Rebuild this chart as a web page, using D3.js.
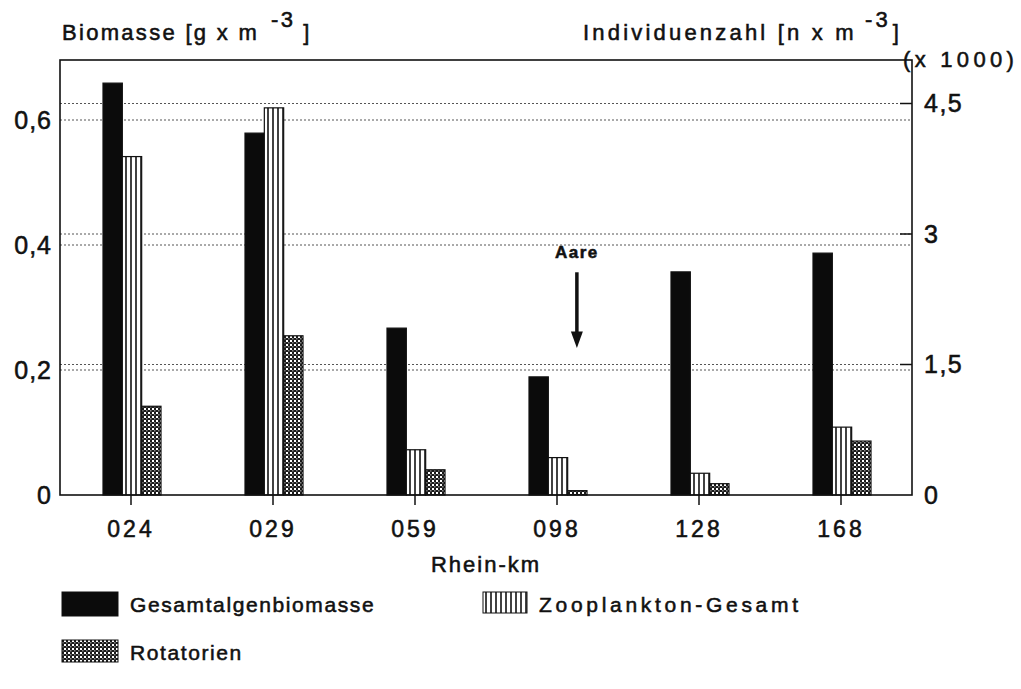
<!DOCTYPE html>
<html>
<head>
<meta charset="utf-8">
<script src="https://cdn.jsdelivr.net/npm/d3@7"></script>
<style>
  body { margin: 0; background: #fff; }
  text { font-family: "Liberation Sans", Arial, sans-serif; fill: #111; stroke: #111; stroke-width: 0.55px; }
</style>
</head>
<body>
<div id="chart"></div>
<script>
// chart values
const stations = ["024", "029", "059", "098", "128", "168"];
const algae = [0.659, 0.579, 0.267, 0.189, 0.357, 0.387];   // left axis, g x m-3
const zooplankton = [3.89, 4.45, 0.52, 0.43, 0.25, 0.78];   // right axis, x1000
const rotatorien = [1.02, 1.83, 0.29, 0.05, 0.13, 0.62];    // right axis, x1000
const leftTicks = [0, 0.2, 0.4, 0.6];
const rightTicks = [0, 1.5, 3, 4.5];
const seriesNames = ["Gesamtalgenbiomasse", "Zooplankton-Gesamt", "Rotatorien"];

const width = 1021, height = 689;
const margin = { top: 60, right: 109, bottom: 194, left: 60 };
const innerwidth = width - margin.left - margin.right;
const innerheight = height - margin.top - margin.bottom;

const svg = d3.select("#chart").append("svg")
    .attr("width", width)
    .attr("height", height);

// patterns for the hatched bars
const defs = svg.append("defs");
const stripe = defs.append("pattern")
    .attr("id", "stripes")
    .attr("patternUnits", "userSpaceOnUse")
    .attr("width", 5).attr("height", 10);
stripe.append("rect").attr("width", 5).attr("height", 10).attr("fill", "#fff");
stripe.append("line").attr("x1", 1).attr("x2", 1).attr("y1", 0).attr("y2", 10)
    .attr("stroke", "#111").attr("stroke-width", 1.6);

const check = defs.append("pattern")
    .attr("id", "checks")
    .attr("patternUnits", "userSpaceOnUse")
    .attr("width", 4).attr("height", 4);
check.append("rect").attr("width", 4).attr("height", 4).attr("fill", "#1a1a1a");
check.append("rect").attr("x", 0).attr("y", 0).attr("width", 2).attr("height", 2).attr("fill", "#fff");
check.append("rect").attr("x", 2).attr("y", 2).attr("width", 1.5).attr("height", 1.5).attr("fill", "#888");

const fills = ["#0b0b0b", "url(#stripes)", "url(#checks)"];

const g = svg.append("g")
    .attr("transform", "translate(" + margin.left + "," + margin.top + ")");

const x0 = d3.scaleBand()
    .domain(stations)
    .range([0, innerwidth]);

const x1 = d3.scaleBand()
    .domain(seriesNames)
    .range([x0.bandwidth() / 2 - 28, x0.bandwidth() / 2 + 30]);

const yL = d3.scaleLinear().domain([0, 0.696]).range([innerheight, 0]);
const yR = d3.scaleLinear().domain([0, 5]).range([innerheight, 0]);

// dotted grid lines, one set per axis
g.selectAll(".gridL")
    .data(leftTicks.slice(1))
    .enter().append("line")
    .attr("x1", 0).attr("x2", innerwidth)
    .attr("y1", d => yL(d)).attr("y2", d => yL(d))
    .attr("stroke", "#555").attr("stroke-width", 1)
    .attr("stroke-dasharray", "2,2");

g.selectAll(".gridR")
    .data(rightTicks.slice(1))
    .enter().append("line")
    .attr("x1", 0).attr("x2", innerwidth)
    .attr("y1", d => yR(d)).attr("y2", d => yR(d))
    .attr("stroke", "#555").attr("stroke-width", 1)
    .attr("stroke-dasharray", "2,2");

// bars
const rows = stations.map((s, i) => ({
    station: s,
    vals: [
        { name: seriesNames[0], y: yL(algae[i]) },
        { name: seriesNames[1], y: yR(zooplankton[i]) },
        { name: seriesNames[2], y: yR(rotatorien[i]) }
    ]
}));

const groups = g.selectAll(".grp")
    .data(rows)
    .enter().append("g")
    .attr("transform", d => "translate(" + x0(d.station) + ",0)");

groups.selectAll("rect")
    .data(d => d.vals)
    .enter().append("rect")
    .attr("x", d => x1(d.name))
    .attr("width", x1.bandwidth())
    .attr("y", d => d.y)
    .attr("height", d => innerheight - d.y)
    .attr("fill", (d, i) => fills[i])
    .attr("stroke", "#111")
    .attr("stroke-width", 1.2);

// axes
const axisB = g.append("g")
    .attr("transform", "translate(0," + innerheight + ")")
    .call(d3.axisBottom(x0).tickSize(10).tickPadding(16));
axisB.select(".domain").remove();
axisB.selectAll("line").attr("stroke", "#111").attr("stroke-width", 1.5);
axisB.selectAll("text")
    .style("font-family", "Liberation Sans, Arial, sans-serif")
    .style("font-size", "23px")
    .style("letter-spacing", "3px")
    .attr("fill", "#111");

const axisL = g.append("g")
    .call(d3.axisLeft(yL).tickValues(leftTicks).tickSize(0).tickPadding(8)
        .tickFormat(d => d === 0 ? "0" : String(d).replace(".", ",")));
axisL.select(".domain").remove();
axisL.selectAll("text")
    .style("font-family", "Liberation Sans, Arial, sans-serif")
    .style("font-size", "25px")
    .style("letter-spacing", "1px")
    .attr("fill", "#111");

const axisR = g.append("g")
    .attr("transform", "translate(" + innerwidth + ",0)")
    .call(d3.axisRight(yR).tickValues(rightTicks).tickSize(0).tickPadding(12)
        .tickFormat(d => String(d).replace(".", ",")));
axisR.select(".domain").remove();
axisR.selectAll("text")
    .style("font-family", "Liberation Sans, Arial, sans-serif")
    .style("font-size", "25px")
    .style("letter-spacing", "1.5px")
    .attr("fill", "#111");

// short inward ticks on the right axis
g.selectAll(".rtick")
    .data(rightTicks.slice(1))
    .enter().append("line")
    .attr("x1", innerwidth - 12).attr("x2", innerwidth)
    .attr("y1", d => yR(d)).attr("y2", d => yR(d))
    .attr("stroke", "#111").attr("stroke-width", 1.5);

// frame
g.append("rect")
    .attr("width", innerwidth).attr("height", innerheight)
    .attr("fill", "none").attr("stroke", "#111").attr("stroke-width", 1.6);

// axis titles
const tl = svg.append("text")
    .attr("x", 62).attr("y", 40)
    .style("font-size", "22px").style("letter-spacing", "2.3px");
tl.append("tspan").text("Biomasse [g x m");
tl.append("tspan").attr("dx", 12).attr("dy", -13).style("font-size", "22px").text("-3");
tl.append("tspan").attr("dx", 8).attr("dy", 13).text("]");

const tr = svg.append("text")
    .attr("x", 583).attr("y", 40)
    .style("font-size", "22px").style("letter-spacing", "3.2px");
tr.append("tspan").text("Individuenzahl [n x m");
tr.append("tspan").attr("dx", 8).attr("dy", -13).style("font-size", "22px").text("-3");
tr.append("tspan").attr("dx", 2).attr("dy", 13).text("]");

svg.append("text")
    .attr("x", margin.left + innerwidth - 9).attr("y", 67)
    .style("font-size", "22px").style("letter-spacing", "4.3px")
    .text("(x 1000)");

svg.append("text")
    .attr("x", margin.left + innerwidth / 2).attr("y", 572)
    .attr("text-anchor", "middle")
    .style("font-size", "22px").style("letter-spacing", "2px")
    .text("Rhein-km");

// Aare arrow between 098 and 128
const ax = margin.left + x0("098") + x0.bandwidth() * 0.64;
svg.append("text")
    .attr("x", ax).attr("y", margin.top + yR(2.72))
    .attr("text-anchor", "middle")
    .style("font-size", "17px").style("font-weight", "bold").style("letter-spacing", "1.5px")
    .text("Aare");
svg.append("line")
    .attr("x1", ax).attr("x2", ax)
    .attr("y1", margin.top + yR(2.56)).attr("y2", margin.top + yR(1.85))
    .attr("stroke", "#111").attr("stroke-width", 3.5);
svg.append("path")
    .attr("d", "M" + (ax - 6) + "," + (margin.top + yR(1.88)) +
        " L" + (ax + 6) + "," + (margin.top + yR(1.88)) +
        " L" + ax + "," + (margin.top + yR(1.69)) + " Z")
    .attr("fill", "#111");

// legend
const legend = [
    { name: seriesNames[0], fill: fills[0], x: 62, y: 592, w: 56, h: 24, sp: 1.6 },
    { name: seriesNames[1], fill: fills[1], x: 483, y: 592, w: 44, h: 21, sp: 3.7 },
    { name: seriesNames[2], fill: fills[2], x: 62, y: 640, w: 56, h: 22, sp: 1.6 }
];
legend.forEach(function (l) {
    svg.append("rect")
        .attr("x", l.x).attr("y", l.y)
        .attr("width", l.w).attr("height", l.h)
        .attr("fill", l.fill)
        .attr("stroke", "#111").attr("stroke-width", 1);
    svg.append("text")
        .attr("x", l.x + l.w + 12).attr("y", 20 + l.y)
        .style("font-size", "21px").style("letter-spacing", l.sp + "px")
        .text(l.name);
});
</script>
</body>
</html>
